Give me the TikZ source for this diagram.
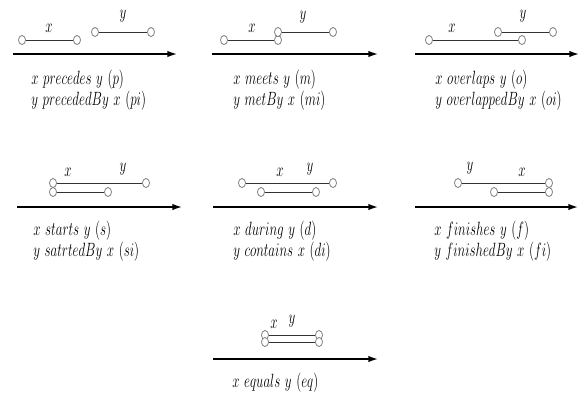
\documentclass[tikz,border=0pt]{standalone}
\usetikzlibrary{arrows.meta,shapes.geometric}
\definecolor{endGray}{HTML}{808080}

% narrow, tall lettering as in the scan
\newcommand{\narrow}[1]{\scalebox{0.68}[1]{#1}}

\begin{document}
\begin{tikzpicture}[x=0.625pt, y=-0.625pt, >=Latex]

    \tikzset{
        pt/.style={ellipse, draw=endGray, fill=white, inner sep=0pt,
            minimum width=4.4pt, minimum height=5.6pt, line width=0.5pt},
        seg/.style={line width=0.6pt, black!80},
        axis/.style={line width=0.9pt, -{Latex[length=6pt,width=4pt]}},
        tag/.style={anchor=base, inner sep=0pt, font=\fontsize{13}{15}\selectfont},
        rel/.style={anchor=base west, inner sep=0pt, font=\fontsize{13}{15}\selectfont}
    }
    \useasboundingbox (0,0) rectangle (581,396);

    % x precedes y
    \coordinate (pa) at (13,54);  \coordinate (pb) at (177,54);
    \draw[axis] (pa) -- (pb);
    \node[pt] (px1) at (22,40) {};  \node[pt] (px2) at (77,40) {};
    \node[pt] (py1) at (95,32) {};  \node[pt] (py2) at (151,32) {};
    \draw[seg] (px1) -- (px2);
    \draw[seg] (py1) -- (py2);
    \node[tag] (pxl) at (49,32) {\narrow{$x$}};
    \node[tag] (pyl) at (123,18) {\narrow{$y$}};
    \node[rel] (pt1) at (31,84) {\narrow{$x\ precedes\ y\ (p)$}};
    \node[rel] (pt2) at (31,105) {\narrow{$y\ precededBy\ x\ (pi)$}};

    % x meets y
    \coordinate (ma) at (212,54);  \coordinate (mb) at (378,54);
    \draw[axis] (ma) -- (mb);
    \node[pt] (mx1) at (224,40) {};  \node[pt] (mx2) at (278,40) {};
    \node[pt] (my1) at (278,32) {};  \node[pt] (my2) at (333,32) {};
    \draw[seg] (mx1) -- (mx2);
    \draw[seg] (my1) -- (my2);
    \node[tag] (mxl) at (252,32) {\narrow{$x$}};
    \node[tag] (myl) at (303,19) {\narrow{$y$}};
    \node[rel] (mt1) at (233,84) {\narrow{$x\ meets\ y\ (m)$}};
    \node[rel] (mt2) at (233,105) {\narrow{$y\ metBy\ x\ (mi)$}};

    % x overlaps y
    \coordinate (oa) at (415,54);  \coordinate (ob) at (579,54);
    \draw[axis] (oa) -- (ob);
    \node[pt] (ox1) at (429,40) {};  \node[pt] (ox2) at (522,40) {};
    \node[pt] (oy1) at (498,32) {};  \node[pt] (oy2) at (553,32) {};
    \draw[seg] (ox1) -- (ox2);
    \draw[seg] (oy1) -- (oy2);
    \node[tag] (oxl) at (452,32) {\narrow{$x$}};
    \node[tag] (oyl) at (523,18) {\narrow{$y$}};
    \node[rel] (ot1) at (435,84) {\narrow{$x\ overlaps\ y\ (o)$}};
    \node[rel] (ot2) at (435,105) {\narrow{$y\ overlappedBy\ x\ (oi)$}};

    % x starts y
    \coordinate (sa) at (17,207);  \coordinate (sb) at (182,207);
    \draw[axis] (sa) -- (sb);
    \node[pt] (sy1) at (53,183) {};  \node[pt] (sy2) at (146,183) {};
    \node[pt] (sx1) at (53,192) {};  \node[pt] (sx2) at (108,192) {};
    \draw[seg] (sy1) -- (sy2);
    \draw[seg] (sx1) -- (sx2);
    \node[tag] (sxl) at (68,176) {\narrow{$x$}};
    \node[tag] (syl) at (123,171) {\narrow{$y$}};
    \node[rel] (st1) at (33,235) {\narrow{$x\ starts\ y\ (s)$}};
    \node[rel] (st2) at (33,256) {\narrow{$y\ satrtedBy\ x\ (si)$}};

    % x during y
    \coordinate (da) at (213,207);  \coordinate (db) at (378,207);
    \draw[axis] (da) -- (db);
    \node[pt] (dy1) at (242,183) {};  \node[pt] (dy2) at (333,183) {};
    \node[pt] (dx1) at (261,192) {};  \node[pt] (dx2) at (316,192) {};
    \draw[seg] (dy1) -- (dy2);
    \draw[seg] (dx1) -- (dx2);
    \node[tag] (dxl) at (280,176) {\narrow{$x$}};
    \node[tag] (dyl) at (310,171) {\narrow{$y$}};
    \node[rel] (dt1) at (233,235) {\narrow{$x\ during\ y\ (d)$}};
    \node[rel] (dt2) at (233,256) {\narrow{$y\ contains\ x\ (di)$}};

    % x finishes y
    \coordinate (fa) at (415,207);  \coordinate (fb) at (578,207);
    \draw[axis] (fa) -- (fb);
    \node[pt] (fy1) at (458,183) {};  \node[pt] (fy2) at (549,183) {};
    \node[pt] (fx1) at (494,192) {};  \node[pt] (fx2) at (549,192) {};
    \draw[seg] (fy1) -- (fy2);
    \draw[seg] (fx1) -- (fx2);
    \node[tag] (fyl) at (470,170) {\narrow{$y$}};
    \node[tag] (fxl) at (522,176) {\narrow{$x$}};
    \node[rel] (ft1) at (434,235) {\narrow{$x\ finishes\ y\ (f)$}};
    \node[rel] (ft2) at (434,256) {\narrow{$y\ finishedBy\ x\ (fi)$}};

    % x equals y
    \coordinate (ea) at (213,359);  \coordinate (eb) at (378,359);
    \draw[axis] (ea) -- (eb);
    \node[pt] (ey1) at (265,335) {};  \node[pt] (ey2) at (319,335) {};
    \node[pt] (ex1) at (265,342) {};  \node[pt] (ex2) at (319,342) {};
    \draw[seg] (ey1) -- (ey2);
    \draw[seg] (ex1) -- (ex2);
    \node[tag] (exl) at (274,328) {\narrow{$x$}};
    \node[tag] (eyl) at (292,323) {\narrow{$y$}};
    \node[rel] (et1) at (232,387) {\narrow{$x\ equals\ y\ (eq)$}};

\end{tikzpicture}
\end{document}
